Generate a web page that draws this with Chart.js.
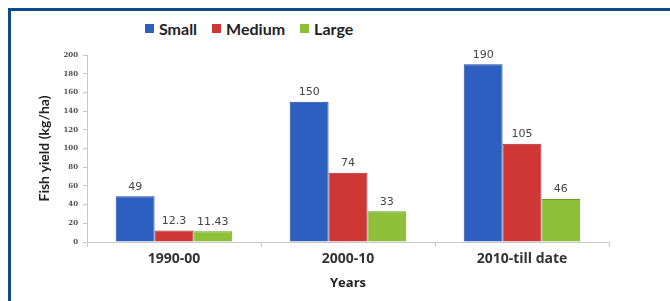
<!DOCTYPE html>
<html>
<head>
<meta charset="utf-8">
<script src="https://cdn.jsdelivr.net/npm/chart.js@4.4.1/dist/chart.umd.min.js"></script>
<style>
  html, body { margin: 0; padding: 0; background: #fff; }
  #wrap { position: relative; width: 670px; height: 301px; overflow: hidden; }
  #frame { position: absolute; left: 8px; top: 8px; right: -10px; bottom: -10px;
           border-top: 3px solid #0f4a8c; border-left: 3px solid #0f4a8c; }
  #legend { position: absolute; top: 19px; left: 145px; font: bold 16px Lato, sans-serif; color: #222;
            display: flex; white-space: nowrap; }
  #legend span.item { display: inline-flex; align-items: center; margin-right: 15px; }
  #legend i { display: inline-block; width: 9px; height: 9px; margin-right: 5px; }
  canvas { position: absolute; left: 0; top: 0; }
</style>
</head>
<body>
<div id="wrap">
  <div id="frame"></div>
  <div id="legend"></div>
  <canvas id="myChart" width="670" height="301"></canvas>
</div>
<script>
// datos
const years = ['1990-00', '2000-10', '2010-till date'];
const small = [49, 150, 190];
const medium = [12.3, 74, 105];
const large = [11.43, 33, 46];
const seriesNames = ['Small', 'Medium', 'Large'];
const yTicks = [0, 20, 40, 60, 80, 100, 120, 140, 160, 180, 200];

const colors = ['#2d5fc0', '#cf3736', '#8dbf38'];
const borders = ['#1d4a9e', '#a82a2a', '#6c9a25'];

// leyenda en html
const legend = document.getElementById('legend');
seriesNames.forEach((name, i) => {
    const item = document.createElement('span');
    item.className = 'item';
    const box = document.createElement('i');
    box.style.background = colors[i];
    item.appendChild(box);
    item.appendChild(document.createTextNode(name));
    legend.appendChild(item);
});

const valueLabels = {
    id: 'valueLabels',
    afterDatasetsDraw(chart) {
        const { ctx } = chart;
        ctx.save();
        ctx.font = '11px "DejaVu Sans", sans-serif';
        ctx.fillStyle = '#444';
        ctx.textAlign = 'center';
        ctx.textBaseline = 'bottom';
        chart.data.datasets.forEach((ds, i) => {
            chart.getDatasetMeta(i).data.forEach((bar, j) => {
                ctx.fillText(String(ds.data[j]), bar.x, bar.y - 4);
            });
        });
        ctx.restore();
    }
};

const ctx = document.getElementById('myChart');
new Chart(ctx, {
    type: 'bar',
    data: {
        labels: years,
        datasets: [
            { label: seriesNames[0], data: small, backgroundColor: colors[0], borderColor: borders[0], borderWidth: 1 },
            { label: seriesNames[1], data: medium, backgroundColor: colors[1], borderColor: borders[1], borderWidth: 1 },
            { label: seriesNames[2], data: large, backgroundColor: colors[2], borderColor: borders[2], borderWidth: 1 }
        ]
    },
    options: {
        responsive: false,
        animation: false,
        layout: { padding: { left: 0, right: 61, top: 55, bottom: 0 } },
        plugins: { legend: { display: false }, tooltip: { enabled: false } },
        datasets: { bar: { barPercentage: 1, categoryPercentage: 0.67 } },
        scales: {
            x: {
                afterFit(scale) { scale.height = 59; },
                border: { color: '#c8c8c8' },
                grid: { drawOnChartArea: false, drawTicks: true, tickLength: 5, color: '#c8c8c8' },
                ticks: { color: '#333', padding: 4, font: { family: 'Open Sans', weight: 'bold', size: 14 } },
                title: { display: true, text: 'Years', color: '#222', padding: { top: 0, bottom: 10 },
                         font: { family: 'Open Sans', weight: 'bold', size: 13 } }
            },
            y: {
                min: 0, max: 200,
                afterFit(scale) { scale.width = 87; },
                afterBuildTicks(scale) { scale.ticks = yTicks.map(v => ({ value: v })); },
                border: { color: '#c8c8c8' },
                grid: { drawOnChartArea: false, drawTicks: true, tickLength: 4, color: '#c8c8c8' },
                ticks: { color: '#555', padding: 5, font: { family: 'DejaVu Serif', weight: 'bold', size: 7 } },
                title: { display: true, text: 'Fish yield (kg/ha)', color: '#222', padding: { top: 36, bottom: 0 },
                         font: { family: 'Lato', weight: 'bold', size: 14 } }
            }
        }
    },
    plugins: [valueLabels]
});
</script>
</body>
</html>
